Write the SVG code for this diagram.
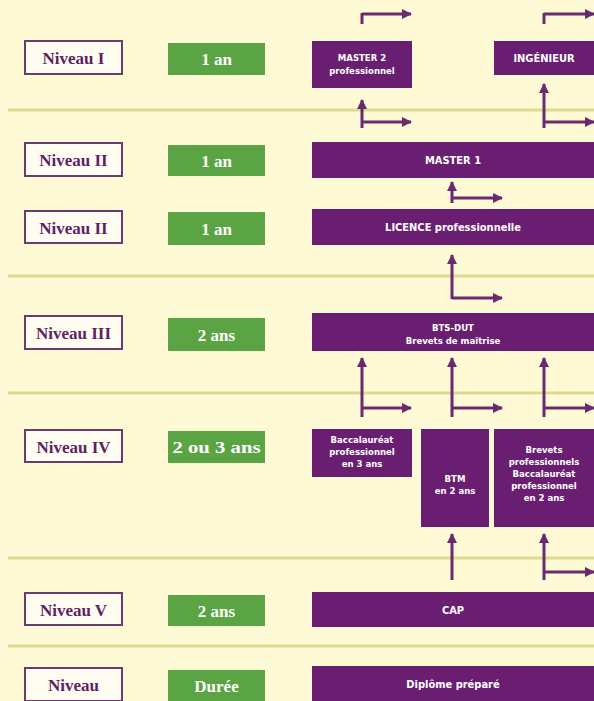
<svg xmlns="http://www.w3.org/2000/svg" width="594" height="701" viewBox="0 0 594 701">
<style>
.bg{fill:#FEFAD6}
.sep{stroke:#DEDA8C;stroke-width:3}
.niv{fill:#FFFDF2;stroke:#6B3A6F;stroke-width:2}
.nivt{font-family:"Liberation Serif",serif;font-weight:bold;font-size:17px;fill:#5E1F66;text-anchor:middle}
.dur{fill:#5BA443}
.durt{font-family:"Liberation Serif",serif;font-weight:bold;font-size:17px;fill:#FFFFFF;text-anchor:middle}
.dip{fill:#6A1E72}
.dipt{font-family:"DejaVu Sans Condensed","Liberation Sans",sans-serif;font-weight:bold;font-size:11px;fill:#FFFFFF;text-anchor:middle}
.dipm{font-family:"DejaVu Sans Condensed","Liberation Sans",sans-serif;font-weight:bold;font-size:9.5px;fill:#FFFFFF;text-anchor:middle}
.arr{fill:none;stroke:#6A2A6E;stroke-width:3;marker-end:url(#ah)}
.arrs{fill:none;stroke:#6A2A6E;stroke-width:3}
</style>
<defs>
<marker id="ah" markerUnits="userSpaceOnUse" markerWidth="10" markerHeight="10" viewBox="0 0 10 10" refX="9" refY="5" orient="auto">
<path d="M0,0 L10,5 L0,10 z" fill="#6A2A6E"/>
</marker>
</defs>
<rect class="bg" x="0" y="0" width="594" height="701"/>
<g id="separators">
<line class="sep" x1="8" y1="110" x2="594" y2="110"/>
<line class="sep" x1="8" y1="276" x2="594" y2="276"/>
<line class="sep" x1="8" y1="393" x2="594" y2="393"/>
<line class="sep" x1="8" y1="558" x2="594" y2="558"/>
<line class="sep" x1="8" y1="646" x2="594" y2="646"/>
</g>
<g id="niveau-1"><rect class="niv" x="25" y="41" width="97" height="33"/><text class="nivt" x="73.5" y="64">Niveau I</text></g>
<g id="duree-1"><rect class="dur" x="168" y="43" width="97" height="32"/><text class="durt" x="216.5" y="65">1 an</text></g>
<g id="niveau-2a"><rect class="niv" x="25" y="143" width="97" height="33"/><text class="nivt" x="73.5" y="166">Niveau II</text></g>
<g id="duree-2a"><rect class="dur" x="168" y="145" width="97" height="31"/><text class="durt" x="216.5" y="167">1 an</text></g>
<g id="niveau-2b"><rect class="niv" x="25" y="211" width="97" height="32"/><text class="nivt" x="73.5" y="234">Niveau II</text></g>
<g id="duree-2b"><rect class="dur" x="168" y="212" width="97" height="33"/><text class="durt" x="216.5" y="235">1 an</text></g>
<g id="niveau-3"><rect class="niv" x="25" y="316" width="97" height="33"/><text class="nivt" x="73.5" y="339">Niveau III</text></g>
<g id="duree-3"><rect class="dur" x="168" y="318" width="97" height="33"/><text class="durt" x="216.5" y="341">2 ans</text></g>
<g id="niveau-4"><rect class="niv" x="25" y="430" width="97" height="32"/><text class="nivt" x="73.5" y="453">Niveau IV</text></g>
<g id="duree-4"><rect class="dur" x="168" y="431" width="97" height="32"/><text class="durt" x="216.5" y="453" textLength="88" lengthAdjust="spacingAndGlyphs">2 ou 3 ans</text></g>
<g id="niveau-5"><rect class="niv" x="25" y="593" width="97" height="32"/><text class="nivt" x="73.5" y="616">Niveau V</text></g>
<g id="duree-5"><rect class="dur" x="168" y="595" width="97" height="31"/><text class="durt" x="216.5" y="617">2 ans</text></g>
<g id="niveau-h"><rect class="niv" x="25" y="668" width="97" height="33"/><text class="nivt" x="73.5" y="691">Niveau</text></g>
<g id="duree-h"><rect class="dur" x="168" y="670" width="97" height="31"/><text class="durt" x="216.5" y="692">Durée</text></g>

<g id="master2"><rect class="dip" x="312" y="41" width="100" height="47"/><text class="dipm" x="362" y="61">MASTER 2</text><text class="dipm" x="362" y="74">professionnel</text></g>
<g id="ingenieur"><rect class="dip" x="494" y="41" width="100" height="34"/><text class="dipt" x="544" y="62">INGÉNIEUR</text></g>
<g id="master1"><rect class="dip" x="312" y="142" width="282" height="36"/><text class="dipt" x="453" y="164">MASTER 1</text></g>
<g id="licence"><rect class="dip" x="312" y="209" width="282" height="36"/><text class="dipt" x="453" y="231">LICENCE professionnelle</text></g>
<g id="bts"><rect class="dip" x="312" y="313" width="282" height="38"/><text class="dipm" x="453" y="331">BTS-DUT</text><text class="dipm" x="453" y="344">Brevets de maîtrise</text></g>
<g id="bacpro3"><rect class="dip" x="312" y="429" width="100" height="48"/><text class="dipm" x="362" y="443">Baccalauréat</text><text class="dipm" x="362" y="455">professionnel</text><text class="dipm" x="362" y="467">en 3 ans</text></g>
<g id="btm"><rect class="dip" x="421" y="429" width="68" height="98"/><text class="dipm" x="455" y="482">BTM</text><text class="dipm" x="455" y="494">en 2 ans</text></g>
<g id="brevets"><rect class="dip" x="494" y="429" width="100" height="98"/><text class="dipm" x="544" y="453">Brevets</text><text class="dipm" x="544" y="465">professionnels</text><text class="dipm" x="544" y="477">Baccalauréat</text><text class="dipm" x="544" y="489">professionnel</text><text class="dipm" x="544" y="501">en 2 ans</text></g>
<g id="cap"><rect class="dip" x="312" y="592" width="282" height="35"/><text class="dipt" x="453" y="614">CAP</text></g>
<g id="diplome"><rect class="dip" x="312" y="666" width="282" height="35"/><text class="dipt" x="453" y="688">Diplôme préparé</text></g>

<g id="connectors">
<path class="arrs" d="M362,13 V24"/><path class="arr" d="M362,14 H411"/>
<path class="arrs" d="M544,13 V24"/><path class="arr" d="M544,14 H594"/>
<path class="arr" d="M362,128 V100"/><path class="arr" d="M362,122 H411"/>
<path class="arr" d="M544,128 V84"/><path class="arr" d="M544,122 H594"/>
<path class="arr" d="M452,203 V182"/><path class="arr" d="M452,198 H502"/>
<path class="arr" d="M452,299 V255"/><path class="arr" d="M452,298 H502"/>
<path class="arr" d="M362,417 V358"/><path class="arr" d="M362,408 H411"/>
<path class="arr" d="M452,417 V358"/><path class="arr" d="M452,408 H502"/>
<path class="arr" d="M544,417 V358"/><path class="arr" d="M544,408 H594"/>
<path class="arr" d="M452,580 V534"/>
<path class="arr" d="M544,580 V534"/><path class="arr" d="M544,572 H594"/>
</g>
</svg>
